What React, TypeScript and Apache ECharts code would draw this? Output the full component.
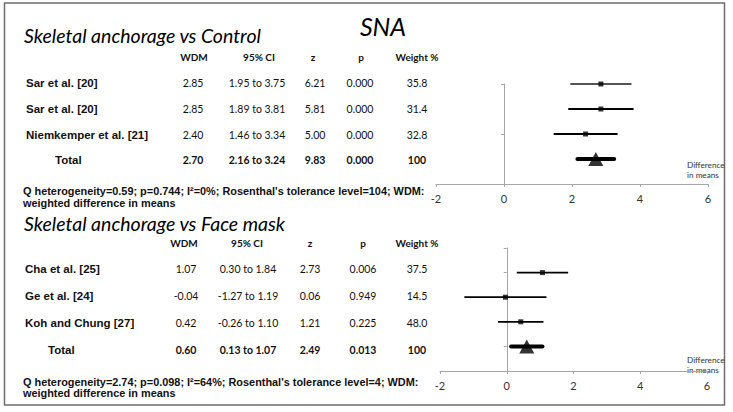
import React, { useEffect, useRef } from "react";
import * as echarts from "echarts";

// ---- Panel 1: Skeletal anchorage vs Control ----
const ctrlStudies = ["Sar et al. [20]", "Sar et al. [20]", "Niemkemper et al. [21]", "Total"];
const ctrlWDM = [2.85, 2.85, 2.4, 2.7];
const ctrlLow = [1.95, 1.89, 1.46, 2.16];
const ctrlHigh = [3.75, 3.81, 3.34, 3.24];
const ctrlZ = [6.21, 5.81, 5.0, 9.83];
const ctrlP = [0.0, 0.0, 0.0, 0.0];
const ctrlWeight = [35.8, 31.4, 32.8, 100];
const ctrlNote = [
  "Q heterogeneity=0.59; p=0.744; I\u00b2=0%; Rosenthal's tolerance level=104; WDM:",
  "weighted difference in means",
];

// ---- Panel 2: Skeletal anchorage vs Face mask ----
const fmStudies = ["Cha et al. [25]", "Ge et al. [24]", "Koh and Chung [27]", "Total"];
const fmWDM = [1.07, -0.04, 0.42, 0.6];
const fmLow = [0.3, -1.27, -0.26, 0.13];
const fmHigh = [1.84, 1.19, 1.1, 1.07];
const fmZ = [2.73, 0.06, 1.21, 2.49];
const fmP = [0.006, 0.949, 0.225, 0.013];
const fmWeight = [37.5, 14.5, 48.0, 100];
const fmNote = [
  "Q heterogeneity=2.74; p=0.098; I\u00b2=64%; Rosenthal's tolerance level=4; WDM:",
  "weighted difference in means",
];

const headers = ["WDM", "95% CI", "z", "p", "Weight %"];
const xTicks = { min: -2, max: 6, interval: 2 };

const LABEL_FONT = 'bold 11.5px "Liberation Sans", Arial, sans-serif';
const NOTE_FONT = 'bold 10.9px "Liberation Sans", Arial, sans-serif';
const NUM_FONT = '10.5px Lato, "Open Sans", sans-serif';
const NUM_FONT_B = 'bold 10.5px Lato, "Open Sans", sans-serif';
const HEAD_FONT = 'bold 10px Lato, "Open Sans", sans-serif';
const SMALL_FONT = '8.2px Lato, "Open Sans", sans-serif';

function txt(x: number, y: number, text: string, font: string, align = "left", fill = "#111") {
  return {
    type: "text",
    x,
    y,
    silent: true,
    style: {
      text,
      font,
      fill,
      align,
      textAlign: align,
      verticalAlign: "middle",
      textVerticalAlign: "middle",
    },
  };
}

function fmtWeight(w: number) {
  return w === 100 ? "100" : w.toFixed(1);
}

type Layout = {
  titleY: number;
  headY: number;
  headX: number[];
  rowY0: number;
  rowStep: number;
  colX: number[];
  labelX: number;
  totalX: number;
  noteY: number[];
  diffY: number;
};

function tableGraphics(
  title: string,
  studies: string[],
  wdm: number[],
  lo: number[],
  hi: number[],
  z: number[],
  p: number[],
  weight: number[],
  note: string[],
  L: Layout
) {
  const g: any[] = [];
  g.push(txt(24, L.titleY, title, 'italic 19.5px Lato, "Open Sans", sans-serif', "left", "#000"));
  headers.forEach((h, i) => g.push(txt(L.headX[i], L.headY, h, HEAD_FONT, "center", "#111")));
  studies.forEach((s, i) => {
    const y = L.rowY0 + i * L.rowStep;
    const last = i === studies.length - 1;
    g.push(txt(last ? L.totalX : L.labelX, y, s, LABEL_FONT, "left", "#111"));
    const f = last ? NUM_FONT_B : NUM_FONT;
    const cells = [
      wdm[i].toFixed(2),
      `${lo[i].toFixed(2)} to ${hi[i].toFixed(2)}`,
      z[i].toFixed(2),
      p[i].toFixed(3),
      fmtWeight(weight[i]),
    ];
    cells.forEach((c, j) => g.push(txt(L.colX[j], y, c, f, "center", "#111")));
  });
  note.forEach((n, i) => g.push(txt(23, L.noteY[i], n, NOTE_FONT, "left", "#111")));
  g.push(txt(687, L.diffY, "Difference", SMALL_FONT, "left", "#333"));
  g.push(txt(687, L.diffY + 10, "in means", SMALL_FONT, "left", "#333"));
  return g;
}

function forestSeries(gridIdx: number, wdm: number[], lo: number[], hi: number[]) {
  const n = wdm.length;
  const lineData = wdm.map((_, i) => [lo[i], hi[i], n - i, i === n - 1 ? 1 : 0, i]);
  const studyPts = wdm.slice(0, n - 1).map((v, i) => [v, n - i]);
  const totalPt = [[wdm[n - 1], 1]];
  return [
    {
      type: "custom",
      xAxisIndex: gridIdx,
      yAxisIndex: gridIdx,
      silent: true,
      clip: false,
      encode: { x: [0, 1], y: 2 },
      data: lineData,
      renderItem: (params: any, api: any) => {
        const y = api.value(2);
        const isTotal = api.value(3) === 1;
        const idx = api.value(4);
        const s = api.coord([api.value(0), y]);
        const e = api.coord([api.value(1), y]);
        return {
          type: "line",
          shape: { x1: s[0], y1: s[1], x2: e[0], y2: e[1] },
          style: {
            stroke: gridIdx === 0 && idx === 0 ? "#555" : "#000",
            lineWidth: isTotal ? 4 : 1.8,
            lineCap: isTotal ? "round" : "butt",
          },
        };
      },
      z: 2,
    },
    {
      type: "scatter",
      xAxisIndex: gridIdx,
      yAxisIndex: gridIdx,
      symbol: "rect",
      symbolSize: 5,
      itemStyle: { color: "#000" },
      data: studyPts,
      silent: true,
      z: 3,
    },
    {
      type: "scatter",
      xAxisIndex: gridIdx,
      yAxisIndex: gridIdx,
      symbol: "triangle",
      symbolSize: [15, 14],
      itemStyle: { color: "#000" },
      data: totalPt,
      silent: true,
      z: 4,
    },
  ];
}

function xAxisCfg(gridIndex: number) {
  return {
    type: "value",
    gridIndex,
    min: xTicks.min,
    max: xTicks.max,
    interval: xTicks.interval,
    axisLine: { show: true, onZero: false, lineStyle: { color: "#a6a6a6", width: 1 } },
    axisTick: { show: true, length: 3, lineStyle: { color: "#a6a6a6" } },
    axisLabel: {
      color: "#333",
      fontFamily: 'Lato, "Open Sans", sans-serif',
      fontSize: 11,
      margin: 9,
    },
    splitLine: { show: false },
  };
}

function yAxisCfg(gridIndex: number, max: number, interval: number) {
  return {
    type: "value",
    gridIndex,
    min: 0,
    max,
    interval,
    axisLine: { show: true, onZero: true, lineStyle: { color: "#a6a6a6", width: 1 } },
    axisTick: { show: true, length: 3, lineStyle: { color: "#a6a6a6" } },
    axisLabel: { show: false },
    splitLine: { show: false },
  };
}

export default function App() {
  const ref = useRef<HTMLDivElement>(null);
  useEffect(() => {
    document.body.style.margin = "0";
    if (!ref.current) return;
    const chart = echarts.init(ref.current, null, { renderer: "svg" });
    const graphics: any[] = [
      {
        type: "rect",
        shape: { x: 4.5, y: 3, width: 720, height: 402 },
        style: { fill: "#fff", stroke: "#6e6e6e", lineWidth: 1.5 },
        silent: true,
        z: -10,
      },
      txt(383, 26, "SNA", 'italic 25px Lato, "Open Sans", sans-serif', "center", "#000"),
      ...tableGraphics(
        "Skeletal anchorage vs Control",
        ctrlStudies, ctrlWDM, ctrlLow, ctrlHigh, ctrlZ, ctrlP, ctrlWeight, ctrlNote,
        {
          titleY: 35,
          headY: 57,
          headX: [194, 259, 313, 361, 417],
          rowY0: 83,
          rowStep: 25.8,
          colX: [193, 257, 315, 360, 417],
          labelX: 26,
          totalX: 55,
          noteY: [191, 203],
          diffY: 165,
        }
      ),
      ...tableGraphics(
        "Skeletal anchorage vs Face mask",
        fmStudies, fmWDM, fmLow, fmHigh, fmZ, fmP, fmWeight, fmNote,
        {
          titleY: 223,
          headY: 243,
          headX: [184, 247, 310, 363, 417],
          rowY0: 269,
          rowStep: 27,
          colX: [186, 248, 310, 363, 417],
          labelX: 25,
          totalX: 48,
          noteY: [382, 393],
          diffY: 360,
        }
      ),
    ];
    chart.setOption({
      animation: false,
      backgroundColor: "#fff",
      grid: [
        { left: 436, width: 272, top: 84, height: 100 },
        { left: 440, width: 267, top: 248, height: 123 },
      ],
      xAxis: [xAxisCfg(0), xAxisCfg(1)],
      yAxis: [yAxisCfg(0, 4, 2), yAxisCfg(1, 5, 1)],
      series: [...forestSeries(0, ctrlWDM, ctrlLow, ctrlHigh), ...forestSeries(1, fmWDM, fmLow, fmHigh)],
      graphic: graphics,
    });
    return () => chart.dispose();
  }, []);
  return <div ref={ref} style={{ width: 733, height: 412 }} />;
}
